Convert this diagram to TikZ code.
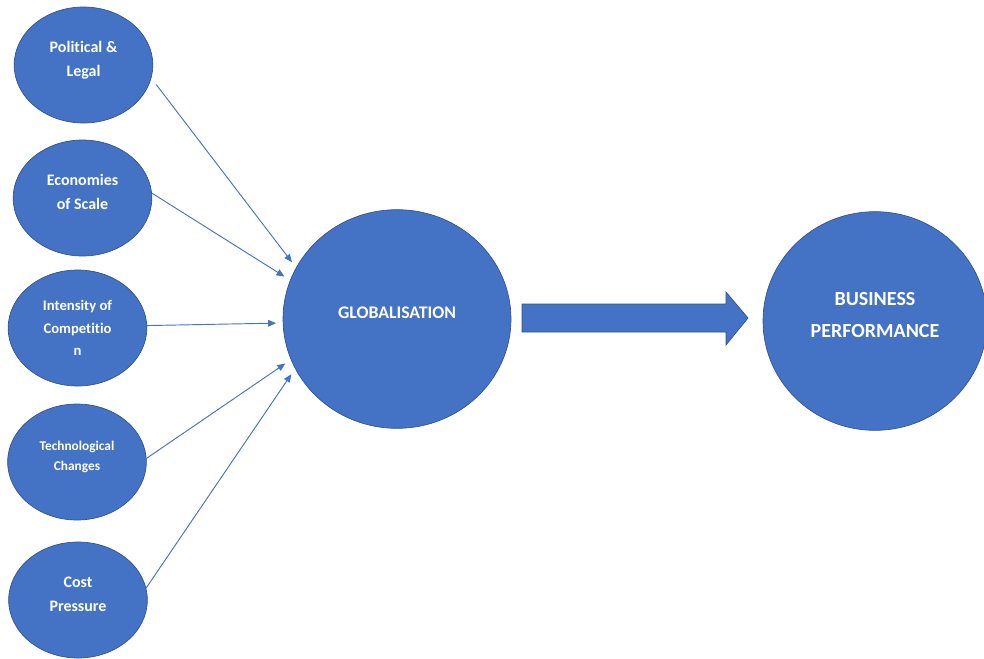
\documentclass[tikz,border=0pt]{standalone}
\usepackage{fontspec}
\setmainfont{Carlito}[Ligatures=NoCommon]
\usetikzlibrary{arrows.meta,shapes.geometric}
\definecolor{officeblue}{HTML}{4472C4}
\definecolor{edgeblue}{HTML}{2F528F}

\begin{document}
\begin{tikzpicture}[x=0.75pt,y=-0.75pt,
    factor/.style={ellipse,draw=edgeblue,line width=0.5pt,fill=officeblue,
      text=white,align=center,inner sep=0pt,text depth=9pt,
      minimum width=104pt,minimum height=87pt,
      font=\bfseries\fontsize{12}{18}\selectfont},
    hub/.style={factor,minimum width=171pt,minimum height=164pt,
      font=\bfseries\fontsize{13.3}{20}\selectfont},
    link/.style={draw=officeblue,line width=0.7pt,
      -{Triangle[length=6pt,width=5pt]},shorten >=5pt}]
  \useasboundingbox (0,0) rectangle (984,658);

  % drivers on the left
  \node [factor] (pol) at (83.5,65) {Political \&\\Legal};
  \node [factor] (eco) at (82.5,198) {Economies\\of Scale};
  \node [factor,text depth=0pt,font=\bfseries\fontsize{11}{17}\selectfont] (comp)
    at (77.5,328) {Intensity of\\Competitio\\n};
  \node [factor,font=\bfseries\fontsize{10}{15}\selectfont] (tech) at (77,462)
    {Technological\\Changes};
  \node [factor] (cost) at (78,600) {Cost\\Pressure};

  % centre and outcome
  \node [hub] (glob) at (397,319) {GLOBALISATION};
  \node [hub,minimum width=168pt,font=\bfseries\fontsize{15}{24.5}\selectfont] (biz)
    at (875,321) {BUSINESS\\PERFORMANCE};

  % block arrow between them
  \filldraw [fill=officeblue,draw=edgeblue,line width=0.5pt]
    (522,304) -- (726,304) -- (726,292) -- (748,318) -- (726,345)
    -- (726,332) -- (522,332) -- cycle;

  \draw [link,shorten <=6pt] (pol.-11) -- (glob.153);
  \draw [link] (eco.4) -- (glob.160);
  \draw [link] (comp.2) -- (glob.182);
  \draw [link] (tech.3) -- (glob.201);
  \draw [link] (cost.10) -- (glob.206);
\end{tikzpicture}
\end{document}
